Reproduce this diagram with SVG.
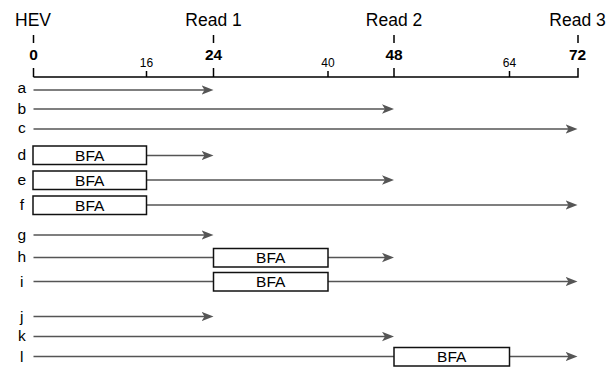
<svg xmlns="http://www.w3.org/2000/svg" width="611" height="371" viewBox="0 0 611 371">
<defs>
<style>
.hdr{font-family:"Liberation Sans",Arial,sans-serif;font-size:17.5px;fill:#000;text-anchor:middle}
.big{font-family:"Liberation Sans",Arial,sans-serif;font-size:15.5px;font-weight:bold;fill:#000;text-anchor:middle}
.sm{font-family:"Liberation Sans",Arial,sans-serif;font-size:12px;fill:#000;text-anchor:middle}
.lbl{font-family:"Liberation Sans",Arial,sans-serif;font-size:15.5px;fill:#000;text-anchor:middle}
.tick{stroke:#000;stroke-width:1.5;fill:none}
.ln{stroke:#555;stroke-width:1.5;fill:none}
.arr{marker-end:url(#ah)}
.box{fill:#fff;stroke:#111;stroke-width:1.5}
</style>
<marker id="ah" viewBox="0 -5 12 10" refX="6" refY="0" markerWidth="12" markerHeight="10" markerUnits="userSpaceOnUse" orient="auto">
<path d="M0,-4.7 L12,0 L0,4.7 L3,0 Z" fill="#555"/>
</marker>
</defs>

<g id="axis">
<text class="hdr" x="33" y="26">HEV</text>
<text class="hdr" x="213.5" y="26">Read 1</text>
<text class="hdr" x="394" y="26">Read 2</text>
<text class="hdr" x="577.5" y="26">Read 3</text>
<path class="tick" d="M33.5,35V43 M213.5,35V43 M394,35V43 M578,35V43"/>
<text class="big" x="33.5" y="60">0</text>
<text class="big" x="213.5" y="60">24</text>
<text class="big" x="394" y="60">48</text>
<text class="big" x="577.5" y="60">72</text>
<text class="sm" x="146.5" y="67">16</text>
<text class="sm" x="328" y="67">40</text>
<text class="sm" x="509.5" y="67">64</text>
<path class="tick" d="M33.5,68V77 M213.5,68V77 M394,68V77 M578,68V77 M146.5,71V77 M328,71V77 M509.5,71V77 M33.5,77H578.75"/>
</g>

<g id="labels">
<text class="lbl" x="21.8" y="92.5">a</text>
<text class="lbl" x="21.8" y="113.5">b</text>
<text class="lbl" x="21.8" y="133">c</text>
<text class="lbl" x="21.8" y="160">d</text>
<text class="lbl" x="21.8" y="184.5">e</text>
<text class="lbl" x="21.8" y="210">f</text>
<text class="lbl" x="21.8" y="239.5">g</text>
<text class="lbl" x="21.8" y="262">h</text>
<text class="lbl" x="21.8" y="286.5">i</text>
<text class="lbl" x="21.8" y="321.5">j</text>
<text class="lbl" x="21.8" y="341">k</text>
<text class="lbl" x="21.8" y="361.5">l</text>
</g>

<g id="connectors">
<line class="ln arr" x1="33.5" y1="90" x2="207.5" y2="90"/>
<line class="ln arr" x1="33.5" y1="109" x2="388" y2="109"/>
<line class="ln arr" x1="33.5" y1="129" x2="571.5" y2="129"/>
<line class="ln arr" x1="146.5" y1="155.5" x2="207.5" y2="155.5"/>
<line class="ln arr" x1="146.5" y1="180" x2="388" y2="180"/>
<line class="ln arr" x1="146.5" y1="205" x2="571.5" y2="205"/>
<line class="ln arr" x1="33.5" y1="235" x2="207.5" y2="235"/>
<line class="ln" x1="33.5" y1="257.5" x2="213.5" y2="257.5"/>
<line class="ln arr" x1="328" y1="257.5" x2="388" y2="257.5"/>
<line class="ln" x1="33.5" y1="281.5" x2="213.5" y2="281.5"/>
<line class="ln arr" x1="328" y1="281.5" x2="571.5" y2="281.5"/>
<line class="ln arr" x1="33.5" y1="316.5" x2="207.5" y2="316.5"/>
<line class="ln arr" x1="33.5" y1="336.5" x2="388" y2="336.5"/>
<line class="ln" x1="33.5" y1="356.5" x2="394" y2="356.5"/>
<line class="ln arr" x1="509.5" y1="356.5" x2="571.5" y2="356.5"/>
</g>

<g id="bfa-d"><rect class="box" x="33" y="146" width="113.5" height="18.5"/><text class="lbl" x="89.75" y="160.5">BFA</text></g>
<g id="bfa-e"><rect class="box" x="33" y="171" width="113.5" height="18.5"/><text class="lbl" x="89.75" y="185.5">BFA</text></g>
<g id="bfa-f"><rect class="box" x="33" y="196" width="113.5" height="18.5"/><text class="lbl" x="89.75" y="210.5">BFA</text></g>
<g id="bfa-h"><rect class="box" x="213.5" y="248.5" width="114.5" height="18.5"/><text class="lbl" x="270.75" y="263">BFA</text></g>
<g id="bfa-i"><rect class="box" x="213.5" y="272.5" width="114.5" height="18.5"/><text class="lbl" x="270.75" y="287">BFA</text></g>
<g id="bfa-l"><rect class="box" x="394" y="347.5" width="115.5" height="18.5"/><text class="lbl" x="451.75" y="362">BFA</text></g>
</svg>
